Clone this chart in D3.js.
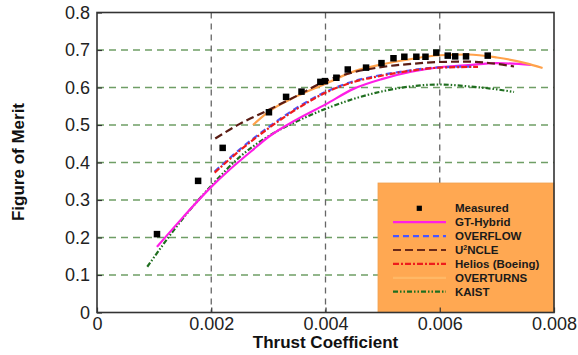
<!DOCTYPE html>
<html>
<head>
<meta charset="utf-8">
<script src="https://cdn.jsdelivr.net/npm/d3@7/dist/d3.min.js"></script>
<style>
  html, body { margin: 0; padding: 0; background: #fff; }
  svg { display: block; font-family: "Liberation Sans", Arial, sans-serif; }
</style>
</head>
<body>
<svg id="chart" width="578" height="355"></svg>
<script>
// Hover figure of merit vs thrust coefficient: measured data and CFD predictions

const xTicks = [0, 0.002, 0.004, 0.006, 0.008];
const xTickLabels = ["0", "0.002", "0.004", "0.006", "0.008"];
const yTicks = [0, 0.1, 0.2, 0.3, 0.4, 0.5, 0.6, 0.7, 0.8];
const yTickLabels = ["0", "0.1", "0.2", "0.3", "0.4", "0.5", "0.6", "0.7", "0.8"];
const xGrid = [0.002, 0.004, 0.006];
const yGrid = [0.1, 0.2, 0.3, 0.4, 0.5, 0.6, 0.7];

// Measured points: [CT, FM]
const measured = [
  [0.00105, 0.209], [0.00177, 0.351], [0.00220, 0.439], [0.00301, 0.534],
  [0.00331, 0.575], [0.00358, 0.589], [0.00391, 0.615], [0.00399, 0.617],
  [0.00419, 0.626], [0.00439, 0.648], [0.00471, 0.653], [0.00498, 0.665],
  [0.00519, 0.678], [0.00538, 0.682], [0.00559, 0.682], [0.00575, 0.682],
  [0.00594, 0.693], [0.00614, 0.685], [0.00627, 0.683], [0.00646, 0.683],
  [0.00684, 0.685]
];

const gtHybrid = [
  [0.00105, 0.175], [0.0015, 0.253], [0.002, 0.335], [0.0023, 0.378],
  [0.0027, 0.430], [0.003, 0.468], [0.0035, 0.515], [0.004, 0.555],
  [0.0045, 0.597], [0.005, 0.623], [0.0055, 0.642], [0.006, 0.654],
  [0.0065, 0.660], [0.007, 0.665], [0.0076, 0.660]
];

const overflow = [
  [0.00206, 0.376], [0.0025, 0.435], [0.003, 0.494], [0.0035, 0.546],
  [0.004, 0.588], [0.0045, 0.617], [0.005, 0.634], [0.0055, 0.646],
  [0.006, 0.654], [0.0066, 0.656]
];

const uncle = [
  [0.00207, 0.464], [0.0025, 0.503], [0.003, 0.540], [0.0035, 0.578],
  [0.004, 0.617], [0.0045, 0.641], [0.005, 0.655], [0.0055, 0.663],
  [0.006, 0.668], [0.0065, 0.669], [0.007, 0.663], [0.0073, 0.656]
];

const helios = [
  [0.00206, 0.373], [0.0025, 0.432], [0.003, 0.491], [0.0035, 0.543],
  [0.004, 0.586], [0.0045, 0.615], [0.005, 0.632], [0.0055, 0.645],
  [0.006, 0.653], [0.00667, 0.655]
];

const overturns = [
  [0.00273, 0.500], [0.003, 0.535], [0.0035, 0.577], [0.004, 0.610],
  [0.0045, 0.643], [0.005, 0.662], [0.0055, 0.676], [0.006, 0.686],
  [0.0065, 0.688], [0.007, 0.680], [0.0075, 0.665], [0.0078, 0.652]
];

const kaist = [
  [0.00088, 0.122], [0.0015, 0.250], [0.002, 0.338], [0.0025, 0.415],
  [0.003, 0.470], [0.0035, 0.510], [0.004, 0.543], [0.0045, 0.570],
  [0.005, 0.590], [0.0055, 0.603], [0.006, 0.608], [0.0065, 0.603],
  [0.007, 0.595], [0.0073, 0.588]
];

const seriesNames = ["GT-Hybrid", "OVERFLOW", "U2NCLE", "Helios (Boeing)", "OVERTURNS", "KAIST"];

const seriesStyle = [
  { data: gtHybrid,  color: "#ff1ee6", dash: null,              width: 2.2, legendColor: "#ff1ee6" },
  { data: overflow,  color: "#4a55ff", dash: "6,4",             width: 2.2, legendColor: "#4a55ff" },
  { data: uncle,     color: "#5a1c14", dash: "8,4",             width: 2.2, legendColor: "#6a2a18" },
  { data: helios,    color: "#ee1c1c", dash: "6,2,2,2",         width: 2.2, legendColor: "#ee1c1c" },
  { data: overturns, color: "#ffa14a", dash: null,              width: 2.2, legendColor: "#ffb866" },
  { data: kaist,     color: "#1f6e1f", dash: "5,2,1.5,2,1.5,2", width: 2.2, legendColor: "#1f6e1f" }
];

(function draw() {
  const svg = d3.select("#chart");
  svg.append("rect").attr("width", 578).attr("height", 355).attr("fill", "#fff");

  const m = { left: 97, right: 554, top: 12.5, bottom: 312.5 };
  const x = d3.scaleLinear().domain([0, 0.008]).range([m.left, m.right]);
  const y = d3.scaleLinear().domain([0, 0.8]).range([m.bottom, m.top]);

  // grid lines
  svg.append("g").selectAll("line").data(yGrid).join("line")
    .attr("x1", m.left).attr("x2", m.right)
    .attr("y1", d => y(d)).attr("y2", d => y(d))
    .attr("stroke", "#6f9e66").attr("stroke-width", 1.3)
    .attr("stroke-dasharray", "7,5");

  svg.append("g").selectAll("line").data(xGrid).join("line")
    .attr("x1", d => x(d)).attr("x2", d => x(d))
    .attr("y1", m.top).attr("y2", m.bottom)
    .attr("stroke", "#666").attr("stroke-width", 1.3)
    .attr("stroke-dasharray", "6,5");

  // legend panel
  const lgX = 378, lgY = 183;
  svg.append("rect")
    .attr("x", lgX).attr("y", lgY)
    .attr("width", m.right - lgX).attr("height", m.bottom - lgY)
    .attr("fill", "#ffa852").attr("stroke", "#f0a050").attr("stroke-width", 0.8);

  // curves
  const line = d3.line().x(d => x(d[0])).y(d => y(d[1])).curve(d3.curveMonotoneX);
  const curveOrder = [5, 0, 4, 1, 3, 2];
  curveOrder.forEach(i => {
    const s = seriesStyle[i];
    svg.append("path")
      .datum(s.data)
      .attr("d", line)
      .attr("fill", "none")
      .attr("stroke", s.color)
      .attr("stroke-width", s.width)
      .attr("stroke-dasharray", s.dash);
  });

  // measured points
  const sq = 6.5;
  svg.append("g").selectAll("rect").data(measured).join("rect")
    .attr("x", d => x(d[0]) - sq / 2)
    .attr("y", d => y(d[1]) - sq / 2)
    .attr("width", sq).attr("height", sq)
    .attr("fill", "#000");

  // axes with inward ticks
  const yAxis = d3.axisLeft(y).tickValues(yTicks)
    .tickFormat((d, i) => yTickLabels[i]).tickSize(-5).tickPadding(7);
  const xAxis = d3.axisBottom(x).tickValues(xTicks)
    .tickFormat((d, i) => xTickLabels[i]).tickSize(-5).tickPadding(5);

  const gy = svg.append("g").attr("transform", `translate(${m.left},0)`).call(yAxis);
  const gx = svg.append("g").attr("transform", `translate(0,${m.bottom})`).call(xAxis);
  [gx, gy].forEach(g => {
    g.select(".domain").remove();
    g.selectAll(".tick line").attr("stroke", "#333").attr("stroke-width", 1.2);
    g.selectAll(".tick text").attr("fill", "#222")
      .style("font-size", "18px")
      .style("font-family", "'Liberation Sans', Arial, sans-serif");
  });

  // frame
  svg.append("rect")
    .attr("x", m.left).attr("y", m.top)
    .attr("width", m.right - m.left).attr("height", m.bottom - m.top)
    .attr("fill", "none").attr("stroke", "#333").attr("stroke-width", 1.6);

  // axis titles
  svg.append("text")
    .attr("x", (m.left + m.right) / 2).attr("y", 348)
    .attr("text-anchor", "middle")
    .style("font-size", "17px").style("font-weight", "bold").attr("fill", "#111")
    .text("Thrust Coefficient");

  svg.append("text")
    .attr("transform", "translate(24,162) rotate(-90)")
    .attr("text-anchor", "middle")
    .style("font-size", "17px").style("font-weight", "bold").attr("fill", "#111")
    .text("Figure of Merit");

  // legend entries
  const rowY0 = 208.3, rowH = 13.9;
  const lineX1 = 393, lineX2 = 446, textX = 455;
  const legend = svg.append("g").style("font-size", "11.5px").style("font-weight", "bold");

  legend.append("rect")
    .attr("x", 419.3 - 2.6).attr("y", rowY0 - 2.6)
    .attr("width", 5.2).attr("height", 5.2).attr("fill", "#000");
  legend.append("text").attr("x", textX).attr("y", rowY0 + 4).attr("fill", "#1a1a1a").text("Measured");

  seriesStyle.forEach((s, i) => {
    const yy = rowY0 + rowH * (i + 1);
    legend.append("line")
      .attr("x1", lineX1).attr("x2", lineX2).attr("y1", yy).attr("y2", yy)
      .attr("stroke", s.legendColor).attr("stroke-width", 2.2)
      .attr("stroke-dasharray", s.dash);
    const t = legend.append("text").attr("x", textX).attr("y", yy + 4).attr("fill", "#1a1a1a");
    if (seriesNames[i] === "U2NCLE") {
      t.append("tspan").text("U");
      t.append("tspan").attr("dy", -4).style("font-size", "7px").text("2");
      t.append("tspan").attr("dy", 4).text("NCLE");
    } else {
      t.text(seriesNames[i]);
    }
  });
})();
</script>
</body>
</html>
